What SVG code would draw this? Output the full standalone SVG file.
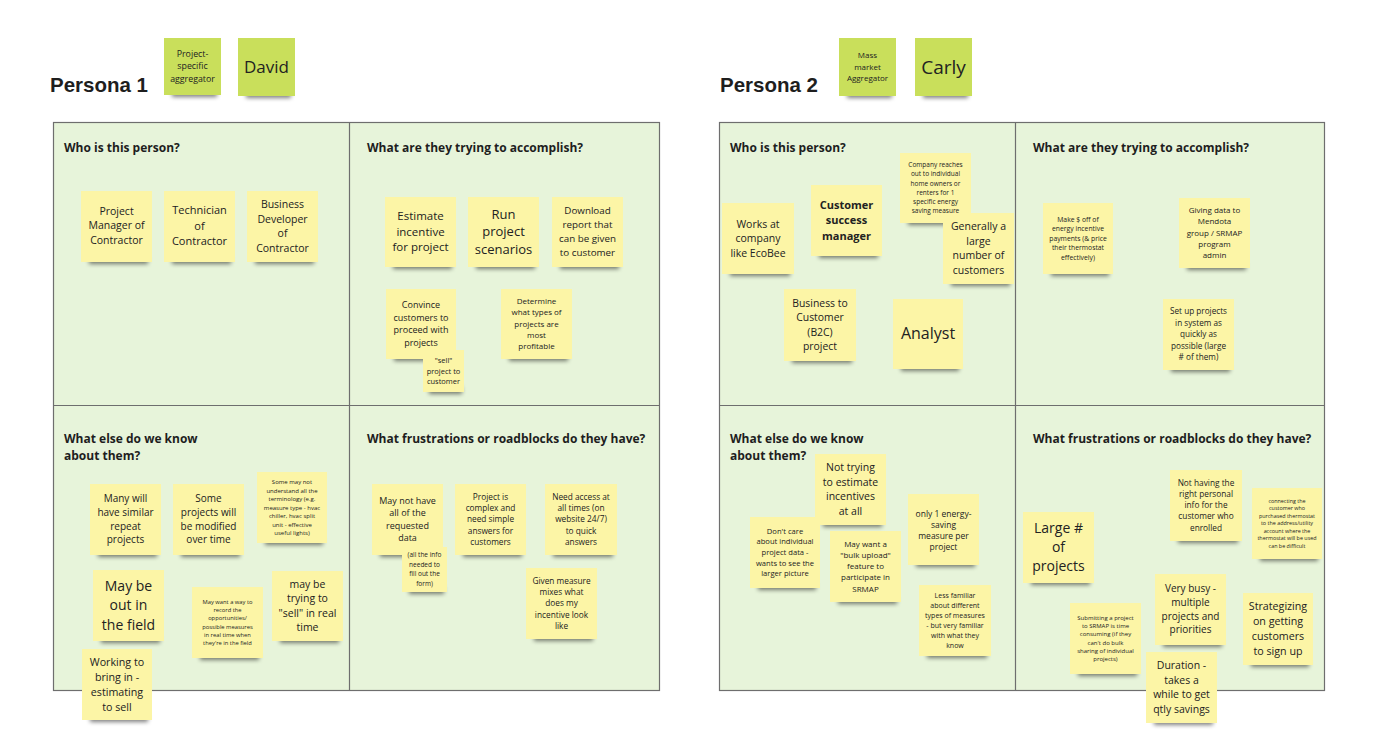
<svg xmlns="http://www.w3.org/2000/svg" width="1388" height="752" viewBox="0 0 1388 752">
<defs>
<filter id="blur" x="-30%" y="-100%" width="160%" height="300%"><feGaussianBlur stdDeviation="2"/></filter>
</defs>
<style>
.board{fill:#e7f4da;stroke:#6e6e6e;stroke-width:1.2}
.div{stroke:#6e6e6e;stroke-width:1.2;fill:none}
.title{font-family:"Liberation Sans",Arial,sans-serif;font-weight:bold;font-size:20.5px;fill:#1e1e1e}
.h{font-family:"Open Sans","Liberation Sans",sans-serif;font-weight:bold;font-size:12px;fill:#1e1e1e}
.sh{fill:#000;opacity:.5;filter:url(#blur);transform:translate(2px,0)}
.y{fill:#fcf5a6}
.g{fill:#c9df5b}
.t{font-family:"Open Sans","Liberation Sans",sans-serif;fill:#222;text-anchor:middle}
</style>
<rect width="1388" height="752" fill="#ffffff"/>

<g id="persona1">
<text class="title" x="50" y="92">Persona 1</text>
<rect class="board" x="53.5" y="122.5" width="606" height="568"/>
<path class="div" d="M349.5 122.5V690.5M53.5 405.5H659.5"/>
<text class="h" x="64" y="152">Who is this person?</text>
<text class="h" x="367" y="152">What are they trying to accomplish?</text>
<text class="h" x="64" y="443">What else do we know</text>
<text class="h" x="64" y="460">about them?</text>
<text class="h" x="367" y="443">What frustrations or roadblocks do they have?</text>
</g>

<g id="persona2">
<text class="title" x="720" y="92">Persona 2</text>
<rect class="board" x="719.5" y="122.5" width="605" height="568"/>
<path class="div" d="M1015.5 122.5V690.5M719.5 405.5H1324.5"/>
<text class="h" x="730" y="152">Who is this person?</text>
<text class="h" x="1033" y="152">What are they trying to accomplish?</text>
<text class="h" x="730" y="443">What else do we know</text>
<text class="h" x="730" y="460">about them?</text>
<text class="h" x="1033" y="443">What frustrations or roadblocks do they have?</text>
</g>

<!-- Persona 1 header notes -->
<g id="n-psa" transform="translate(164,38)"><rect class="sh" x="6" y="52" width="45" height="7"/><rect class="g" width="57" height="57"/>
<text class="t" font-size="8.8"><tspan x="28.5" y="18.9">Project-</tspan><tspan x="28.5" dy="12.5">specific</tspan><tspan x="28.5" dy="12.5">aggregator</tspan></text></g>
<g id="n-david" transform="translate(238,38)"><rect class="sh" x="6" y="53" width="45" height="7"/><rect class="g" width="57" height="58"/>
<text class="t" font-size="17" x="28.5" y="34.8">David</text></g>

<!-- P1 Q1 -->
<g id="n-pm" transform="translate(81,191)"><rect class="sh" x="6" y="66" width="59" height="7"/><rect class="y" width="71" height="71"/>
<text class="t" font-size="10.5"><tspan x="35.5" y="23.5">Project</tspan><tspan x="35.5" dy="14.8">Manager of</tspan><tspan x="35.5" dy="14.8">Contractor</tspan></text></g>
<g id="n-tech" transform="translate(164,191)"><rect class="sh" x="6" y="66" width="59" height="7"/><rect class="y" width="71" height="71"/>
<text class="t" font-size="11"><tspan x="35.5" y="23.3">Technician</tspan><tspan x="35.5" dy="15.5">of</tspan><tspan x="35.5" dy="15.5">Contractor</tspan></text></g>
<g id="n-bd" transform="translate(247,191)"><rect class="sh" x="6" y="66" width="59" height="7"/><rect class="y" width="71" height="71"/>
<text class="t" font-size="10.5"><tspan x="35.5" y="16.9">Business</tspan><tspan x="35.5" dy="14.7">Developer</tspan><tspan x="35.5" dy="14.7">of</tspan><tspan x="35.5" dy="14.7">Contractor</tspan></text></g>

<!-- P1 Q2 -->
<g id="n-est" transform="translate(385,197)"><rect class="sh" x="6" y="65" width="59" height="7"/><rect class="y" width="71" height="70"/>
<text class="t" font-size="11.5"><tspan x="35.5" y="23.3">Estimate</tspan><tspan x="35.5" dy="15.5">incentive</tspan><tspan x="35.5" dy="15.5">for project</tspan></text></g>
<g id="n-run" transform="translate(468,197)"><rect class="sh" x="6" y="65" width="59" height="7"/><rect class="y" width="71" height="70"/>
<text class="t" font-size="13"><tspan x="35.5" y="21.6">Run</tspan><tspan x="35.5" dy="17.7">project</tspan><tspan x="35.5" dy="17.7">scenarios</tspan></text></g>
<g id="n-dl" transform="translate(552,197)"><rect class="sh" x="6" y="65" width="59" height="7"/><rect class="y" width="71" height="70"/>
<text class="t" font-size="9.8"><tspan x="35.5" y="17.2">Download</tspan><tspan x="35.5" dy="14">report that</tspan><tspan x="35.5" dy="14">can be given</tspan><tspan x="35.5" dy="14">to customer</tspan></text></g>
<g id="n-conv" transform="translate(386,289)"><rect class="sh" x="6" y="65" width="58" height="7"/><rect class="y" width="70" height="70"/>
<text class="t" font-size="9"><tspan x="35" y="19.4">Convince</tspan><tspan x="35" dy="12.4">customers to</tspan><tspan x="35" dy="12.4">proceed with</tspan><tspan x="35" dy="12.4">projects</tspan></text></g>
<g id="n-sell" transform="translate(423,350)"><rect class="sh" x="4" y="37" width="33" height="7"/><rect class="y" width="41" height="42"/>
<text class="t" font-size="7.5"><tspan x="20.5" y="12.7">"sell"</tspan><tspan x="20.5" dy="10.8">project to</tspan><tspan x="20.5" dy="10.8">customer</tspan></text></g>
<g id="n-det" transform="translate(501,289)"><rect class="sh" x="6" y="65" width="59" height="7"/><rect class="y" width="71" height="70"/>
<text class="t" font-size="8"><tspan x="35.5" y="15.2">Determine</tspan><tspan x="35.5" dy="11.2">what types of</tspan><tspan x="35.5" dy="11.2">projects are</tspan><tspan x="35.5" dy="11.2">most</tspan><tspan x="35.5" dy="11.2">profitable</tspan></text></g>

<!-- P1 Q3 -->
<g id="n-many" transform="translate(90,484)"><rect class="sh" x="6" y="66" width="59" height="7"/><rect class="y" width="71" height="71"/>
<text class="t" font-size="10"><tspan x="35.5" y="18.3">Many will</tspan><tspan x="35.5" dy="13.7">have similar</tspan><tspan x="35.5" dy="13.7">repeat</tspan><tspan x="35.5" dy="13.7">projects</tspan></text></g>
<g id="n-some" transform="translate(173,484)"><rect class="sh" x="6" y="66" width="59" height="7"/><rect class="y" width="71" height="71"/>
<text class="t" font-size="10"><tspan x="35.5" y="18.3">Some</tspan><tspan x="35.5" dy="13.7">projects will</tspan><tspan x="35.5" dy="13.7">be modified</tspan><tspan x="35.5" dy="13.7">over time</tspan></text></g>
<g id="n-term" transform="translate(257,472)"><rect class="sh" x="6" y="66" width="58" height="7"/><rect class="y" width="70" height="71"/>
<text class="t" font-size="6"><tspan x="35" y="12">Some may not</tspan><tspan x="35" dy="8.5">understand all the</tspan><tspan x="35" dy="8.5">terminology (e.g.</tspan><tspan x="35" dy="8.5">measure type - hvac</tspan><tspan x="35" dy="8.5">chiller, hvac split</tspan><tspan x="35" dy="8.5">unit - effective</tspan><tspan x="35" dy="8.5">useful lights)</tspan></text></g>
<g id="n-field" transform="translate(93,570)"><rect class="sh" x="6" y="66" width="59" height="7"/><rect class="y" width="71" height="71"/>
<text class="t" font-size="14"><tspan x="35.5" y="20.6">May be</tspan><tspan x="35.5" dy="19.5">out in</tspan><tspan x="35.5" dy="19.5">the field</tspan></text></g>
<g id="n-rec" transform="translate(192,587)"><rect class="sh" x="6" y="66" width="59" height="7"/><rect class="y" width="71" height="71"/>
<text class="t" font-size="5.8"><tspan x="35.5" y="17.2">May want a way to</tspan><tspan x="35.5" dy="8.1">record the</tspan><tspan x="35.5" dy="8.1">opportunities/</tspan><tspan x="35.5" dy="8.1">possible measures</tspan><tspan x="35.5" dy="8.1">in real time when</tspan><tspan x="35.5" dy="8.1">they're in the field</tspan></text></g>
<g id="n-sellrt" transform="translate(272,571)"><rect class="sh" x="6" y="65" width="59" height="7"/><rect class="y" width="71" height="70"/>
<text class="t" font-size="10.5"><tspan x="35.5" y="16.8">may be</tspan><tspan x="35.5" dy="14.5">trying to</tspan><tspan x="35.5" dy="14.5">"sell" in real</tspan><tspan x="35.5" dy="14.5">time</tspan></text></g>
<g id="n-work" transform="translate(82,649)"><rect class="sh" x="6" y="66" width="58" height="7"/><rect class="y" width="70" height="71"/>
<text class="t" font-size="10.7"><tspan x="35" y="16.5">Working to</tspan><tspan x="35" dy="15">bring in -</tspan><tspan x="35" dy="15">estimating</tspan><tspan x="35" dy="15">to sell</tspan></text></g>

<!-- P1 Q4 -->
<g id="n-data" transform="translate(372,484)"><rect class="sh" x="6" y="66" width="59" height="7"/><rect class="y" width="71" height="71"/>
<text class="t" font-size="9"><tspan x="35.5" y="20">May not have</tspan><tspan x="35.5" dy="12.3">all of the</tspan><tspan x="35.5" dy="12.3">requested</tspan><tspan x="35.5" dy="12.3">data</tspan></text></g>
<g id="n-info" transform="translate(402,547)"><rect class="sh" x="5" y="40" width="35" height="7"/><rect class="y" width="45" height="45"/>
<text class="t" font-size="6.5"><tspan x="22.5" y="10.4">(all the info</tspan><tspan x="22.5" dy="9.5">needed to</tspan><tspan x="22.5" dy="9.5">fill out the</tspan><tspan x="22.5" dy="9.5">form)</tspan></text></g>
<g id="n-complex" transform="translate(455,484)"><rect class="sh" x="6" y="66" width="59" height="7"/><rect class="y" width="71" height="71"/>
<text class="t" font-size="8.3"><tspan x="35.5" y="15.6">Project is</tspan><tspan x="35.5" dy="11.3">complex and</tspan><tspan x="35.5" dy="11.3">need simple</tspan><tspan x="35.5" dy="11.3">answers for</tspan><tspan x="35.5" dy="11.3">customers</tspan></text></g>
<g id="n-access" transform="translate(545,484)"><rect class="sh" x="6" y="66" width="60" height="7"/><rect class="y" width="72" height="71"/>
<text class="t" font-size="8.3"><tspan x="36" y="15.6">Need access at</tspan><tspan x="36" dy="11.3">all times (on</tspan><tspan x="36" dy="11.3">website 24/7)</tspan><tspan x="36" dy="11.3">to quick</tspan><tspan x="36" dy="11.3">answers</tspan></text></g>
<g id="n-mix" transform="translate(526,568)"><rect class="sh" x="6" y="66" width="59" height="7"/><rect class="y" width="71" height="71"/>
<text class="t" font-size="8.3"><tspan x="35.5" y="15.5">Given measure</tspan><tspan x="35.5" dy="11.4">mixes what</tspan><tspan x="35.5" dy="11.4">does my</tspan><tspan x="35.5" dy="11.4">incentive look</tspan><tspan x="35.5" dy="11.4">like</tspan></text></g>

<!-- Persona 2 header notes -->
<g id="n-mass" transform="translate(839,38)"><rect class="sh" x="6" y="53" width="45" height="7"/><rect class="g" width="57" height="58"/>
<text class="t" font-size="8"><tspan x="28.5" y="20.3">Mass</tspan><tspan x="28.5" dy="11.3">market</tspan><tspan x="28.5" dy="11.3">Aggregator</tspan></text></g>
<g id="n-carly" transform="translate(915,38)"><rect class="sh" x="6" y="53" width="45" height="7"/><rect class="g" width="57" height="58"/>
<text class="t" font-size="19" x="28.5" y="35.5">Carly</text></g>

<!-- P2 Q1 -->
<g id="n-works" transform="translate(722,203)"><rect class="sh" x="6" y="66" width="60" height="7"/><rect class="y" width="72" height="71"/>
<text class="t" font-size="10.5"><tspan x="36" y="24.5">Works at</tspan><tspan x="36" dy="14.5">company</tspan><tspan x="36" dy="14.5">like EcoBee</tspan></text></g>
<g id="n-csm" transform="translate(811,185)"><rect class="sh" x="6" y="66" width="59" height="7"/><rect class="y" width="71" height="71"/>
<text class="t" font-size="11" font-weight="bold"><tspan x="35.5" y="23.6">Customer</tspan><tspan x="35.5" dy="15.5">success</tspan><tspan x="35.5" dy="15.5">manager</tspan></text></g>
<g id="n-comp" transform="translate(900,153)"><rect class="sh" x="6" y="65" width="59" height="7"/><rect class="y" width="71" height="70"/>
<text class="t" font-size="6.5"><tspan x="35.5" y="14.3">Company reaches</tspan><tspan x="35.5" dy="9.1">out to individual</tspan><tspan x="35.5" dy="9.1">home owners or</tspan><tspan x="35.5" dy="9.1">renters for 1</tspan><tspan x="35.5" dy="9.1">specific energy</tspan><tspan x="35.5" dy="9.1">saving measure</tspan></text></g>
<g id="n-gen" transform="translate(943,213)"><rect class="sh" x="6" y="66" width="59" height="7"/><rect class="y" width="71" height="71"/>
<text class="t" font-size="10.5"><tspan x="35.5" y="16.8">Generally a</tspan><tspan x="35.5" dy="14.8">large</tspan><tspan x="35.5" dy="14.8">number of</tspan><tspan x="35.5" dy="14.8">customers</tspan></text></g>
<g id="n-b2c" transform="translate(784,289)"><rect class="sh" x="6" y="67" width="60" height="7"/><rect class="y" width="72" height="72"/>
<text class="t" font-size="10.4"><tspan x="36" y="17.6">Business to</tspan><tspan x="36" dy="14.5">Customer</tspan><tspan x="36" dy="14.5">(B2C)</tspan><tspan x="36" dy="14.5">project</tspan></text></g>
<g id="n-analyst" transform="translate(893,299)"><rect class="sh" x="6" y="65" width="58" height="7"/><rect class="y" width="70" height="70"/>
<text class="t" font-size="16" x="35" y="40.3">Analyst</text></g>

<!-- P2 Q2 -->
<g id="n-make" transform="translate(1043,203)"><rect class="sh" x="6" y="66" width="58" height="7"/><rect class="y" width="70" height="71"/>
<text class="t" font-size="6.8"><tspan x="35" y="18.5">Make $ off of</tspan><tspan x="35" dy="9.5">energy incentive</tspan><tspan x="35" dy="9.5">payments (&amp; price</tspan><tspan x="35" dy="9.5">their thermostat</tspan><tspan x="35" dy="9.5">effectively)</tspan></text></g>
<g id="n-giving" transform="translate(1179,198)"><rect class="sh" x="6" y="65" width="59" height="7"/><rect class="y" width="71" height="70"/>
<text class="t" font-size="8"><tspan x="35.5" y="15.2">Giving data to</tspan><tspan x="35.5" dy="11.2">Mendota</tspan><tspan x="35.5" dy="11.2">group / SRMAP</tspan><tspan x="35.5" dy="11.2">program</tspan><tspan x="35.5" dy="11.2">admin</tspan></text></g>
<g id="n-setup" transform="translate(1163,299)"><rect class="sh" x="6" y="66" width="59" height="7"/><rect class="y" width="71" height="71"/>
<text class="t" font-size="8.2"><tspan x="35.5" y="15.4">Set up projects</tspan><tspan x="35.5" dy="11.4">in system as</tspan><tspan x="35.5" dy="11.4">quickly as</tspan><tspan x="35.5" dy="11.4">possible (large</tspan><tspan x="35.5" dy="11.4"># of them)</tspan></text></g>

<!-- P2 Q3 -->
<g id="n-nottry" transform="translate(815,454)"><rect class="sh" x="6" y="66" width="59" height="7"/><rect class="y" width="71" height="71"/>
<text class="t" font-size="10.5"><tspan x="35.5" y="17">Not trying</tspan><tspan x="35.5" dy="14.7">to estimate</tspan><tspan x="35.5" dy="14.7">incentives</tspan><tspan x="35.5" dy="14.7">at all</tspan></text></g>
<g id="n-dont" transform="translate(750,517)"><rect class="sh" x="6" y="66" width="58" height="7"/><rect class="y" width="70" height="71"/>
<text class="t" font-size="7.6"><tspan x="35" y="16.6">Don't care</tspan><tspan x="35" dy="10.7">about individual</tspan><tspan x="35" dy="10.7">project data -</tspan><tspan x="35" dy="10.7">wants to see the</tspan><tspan x="35" dy="10.7">larger picture</tspan></text></g>
<g id="n-bulk" transform="translate(830,531)"><rect class="sh" x="6" y="66" width="59" height="7"/><rect class="y" width="71" height="71"/>
<text class="t" font-size="8"><tspan x="35.5" y="15.7">May want a</tspan><tspan x="35.5" dy="11.2">"bulk upload"</tspan><tspan x="35.5" dy="11.2">feature to</tspan><tspan x="35.5" dy="11.2">participate in</tspan><tspan x="35.5" dy="11.2">SRMAP</tspan></text></g>
<g id="n-only" transform="translate(908,494)"><rect class="sh" x="6" y="66" width="59" height="7"/><rect class="y" width="71" height="71"/>
<text class="t" font-size="8.5"><tspan x="35.5" y="22.8">only 1 energy-</tspan><tspan x="35.5" dy="11">saving</tspan><tspan x="35.5" dy="11">measure per</tspan><tspan x="35.5" dy="11">project</tspan></text></g>
<g id="n-less" transform="translate(919,585)"><rect class="sh" x="6" y="66" width="60" height="7"/><rect class="y" width="72" height="71"/>
<text class="t" font-size="7"><tspan x="36" y="13">Less familiar</tspan><tspan x="36" dy="9.9">about different</tspan><tspan x="36" dy="9.9">types of measures</tspan><tspan x="36" dy="9.9">- but very familiar</tspan><tspan x="36" dy="9.9">with what they</tspan><tspan x="36" dy="9.9">know</tspan></text></g>

<!-- P2 Q4 -->
<g id="n-large" transform="translate(1023,512)"><rect class="sh" x="6" y="66" width="59" height="7"/><rect class="y" width="71" height="71"/>
<text class="t" font-size="14"><tspan x="35.5" y="20.9">Large #</tspan><tspan x="35.5" dy="19.2">of</tspan><tspan x="35.5" dy="19.2">projects</tspan></text></g>
<g id="n-nothave" transform="translate(1170,470)"><rect class="sh" x="6" y="66" width="60" height="7"/><rect class="y" width="72" height="71"/>
<text class="t" font-size="8.3"><tspan x="36" y="15.7">Not having the</tspan><tspan x="36" dy="11.25">right personal</tspan><tspan x="36" dy="11.25">info for the</tspan><tspan x="36" dy="11.25">customer who</tspan><tspan x="36" dy="11.25">enrolled</tspan></text></g>
<g id="n-conn" transform="translate(1252,488)"><rect class="sh" x="6" y="66" width="58" height="7"/><rect class="y" width="70" height="71"/>
<text class="t" font-size="5.4"><tspan x="35" y="14.8">connecting the</tspan><tspan x="35" dy="7.5">customer who</tspan><tspan x="35" dy="7.5">purchased thermostat</tspan><tspan x="35" dy="7.5">to the address/utility</tspan><tspan x="35" dy="7.5">account where the</tspan><tspan x="35" dy="7.5">thermostat will be used</tspan><tspan x="35" dy="7.5">can be difficult</tspan></text></g>
<g id="n-submit" transform="translate(1070,603)"><rect class="sh" x="6" y="66" width="59" height="7"/><rect class="y" width="71" height="71"/>
<text class="t" font-size="6"><tspan x="35.5" y="16.8">Submitting a project</tspan><tspan x="35.5" dy="8.3">to SRMAP is time</tspan><tspan x="35.5" dy="8.3">consuming (if they</tspan><tspan x="35.5" dy="8.3">can't do bulk</tspan><tspan x="35.5" dy="8.3">sharing of individual</tspan><tspan x="35.5" dy="8.3">projects)</tspan></text></g>
<g id="n-busy" transform="translate(1155,574)"><rect class="sh" x="6" y="66" width="59" height="7"/><rect class="y" width="71" height="71"/>
<text class="t" font-size="10"><tspan x="35.5" y="18.3">Very busy -</tspan><tspan x="35.5" dy="13.7">multiple</tspan><tspan x="35.5" dy="13.7">projects and</tspan><tspan x="35.5" dy="13.7">priorities</tspan></text></g>
<g id="n-strat" transform="translate(1243,593)"><rect class="sh" x="6" y="67" width="58" height="7"/><rect class="y" width="70" height="72"/>
<text class="t" font-size="10.7"><tspan x="35" y="17.4">Strategizing</tspan><tspan x="35" dy="14.7">on getting</tspan><tspan x="35" dy="14.7">customers</tspan><tspan x="35" dy="14.7">to sign up</tspan></text></g>
<g id="n-dur" transform="translate(1146,652)"><rect class="sh" x="6" y="66" width="59" height="7"/><rect class="y" width="71" height="71"/>
<text class="t" font-size="10.5"><tspan x="35.5" y="17.3">Duration -</tspan><tspan x="35.5" dy="14.5">takes a</tspan><tspan x="35.5" dy="14.5">while to get</tspan><tspan x="35.5" dy="14.5">qtly savings</tspan></text></g>

<g id="connectors"></g>
</svg>
